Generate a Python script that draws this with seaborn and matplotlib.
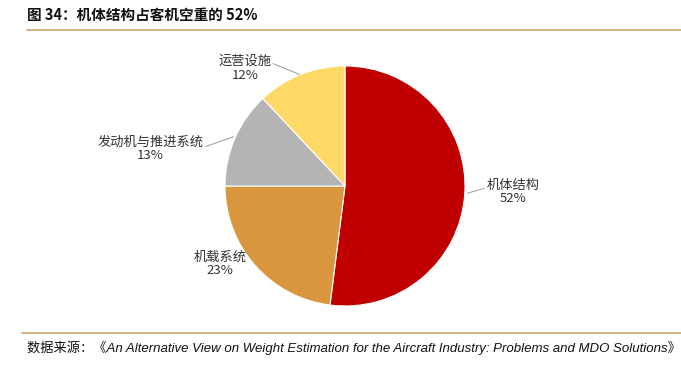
import matplotlib
matplotlib.use("Agg")
import matplotlib.pyplot as plt
import seaborn as sns

categories = ["机体结构", "机载系统", "发动机与推进系统", "运营设施"]
values = [52, 23, 13, 12]
colors = ["#C00000", "#D9963F", "#B4B4B4", "#FFD966"]

sns.set_theme(style="white")
plt.rcParams['font.family'] = ['Noto Sans CJK SC', 'DejaVu Sans']

W, H = 681, 368
fig = plt.figure(figsize=(W / 100, H / 100), dpi=100)

cx, cy, r = 345, 186, 120
ax = fig.add_axes([(cx - r) / W, (H - cy - r) / H, 2 * r / W, 2 * r / H])
wedges, _ = ax.pie(values, colors=colors, startangle=90, counterclock=False,
                   radius=1, wedgeprops=dict(edgecolor="white", linewidth=0.8))
ax.set_xlim(-1, 1)
ax.set_ylim(-1, 1)
ax.set_aspect("equal")
ax.axis("off")

labels = [f"{c}\n{v}%" for c, v in zip(categories, values)]
lab_pos = [(1.40, -0.05), (-1.04, -0.65), (-1.62, 0.31), (-0.83, 0.98)]
line_pts = [((1.02, -0.06), (1.16, -0.02)),
            None,
            ((-0.93, 0.41), (-1.16, 0.33)),
            ((-0.38, 0.93), (-0.6, 1.02))]
for lab, (tx, ty), lp in zip(labels, lab_pos, line_pts):
    ax.text(tx, ty, lab, ha="center", va="center", fontsize=9.5,
            color="#333333", linespacing=1.05, clip_on=False)
    if lp is not None:
        (x0, y0), (x1, y1) = lp
        ax.plot([x0, x1], [y0, y1], color="#A6A6A6", lw=0.8, clip_on=False)

fig.text(27 / W, 1 - 15 / H, "图 34：机体结构占客机空重的 52%", fontsize=10.5,
         fontweight="bold", ha="left", va="center", color="#111111")
fig.add_artist(plt.Line2D([27 / W, 1], [1 - 30 / H] * 2, color="#C9A46A", lw=1.2))
fig.add_artist(plt.Line2D([22 / W, 1], [1 - 333 / H] * 2, color="#C9A46A", lw=1.2))
fig.text(27 / W, 1 - 348 / H,
         "数据来源：《An Alternative View on Weight Estimation for the Aircraft Industry: Problems and MDO Solutions》",
         fontsize=9.5, fontstyle="italic", ha="left", va="center", color="#111111",
         family=['Liberation Sans', 'Noto Sans CJK SC'])

fig.savefig("out.png", dpi=100)
